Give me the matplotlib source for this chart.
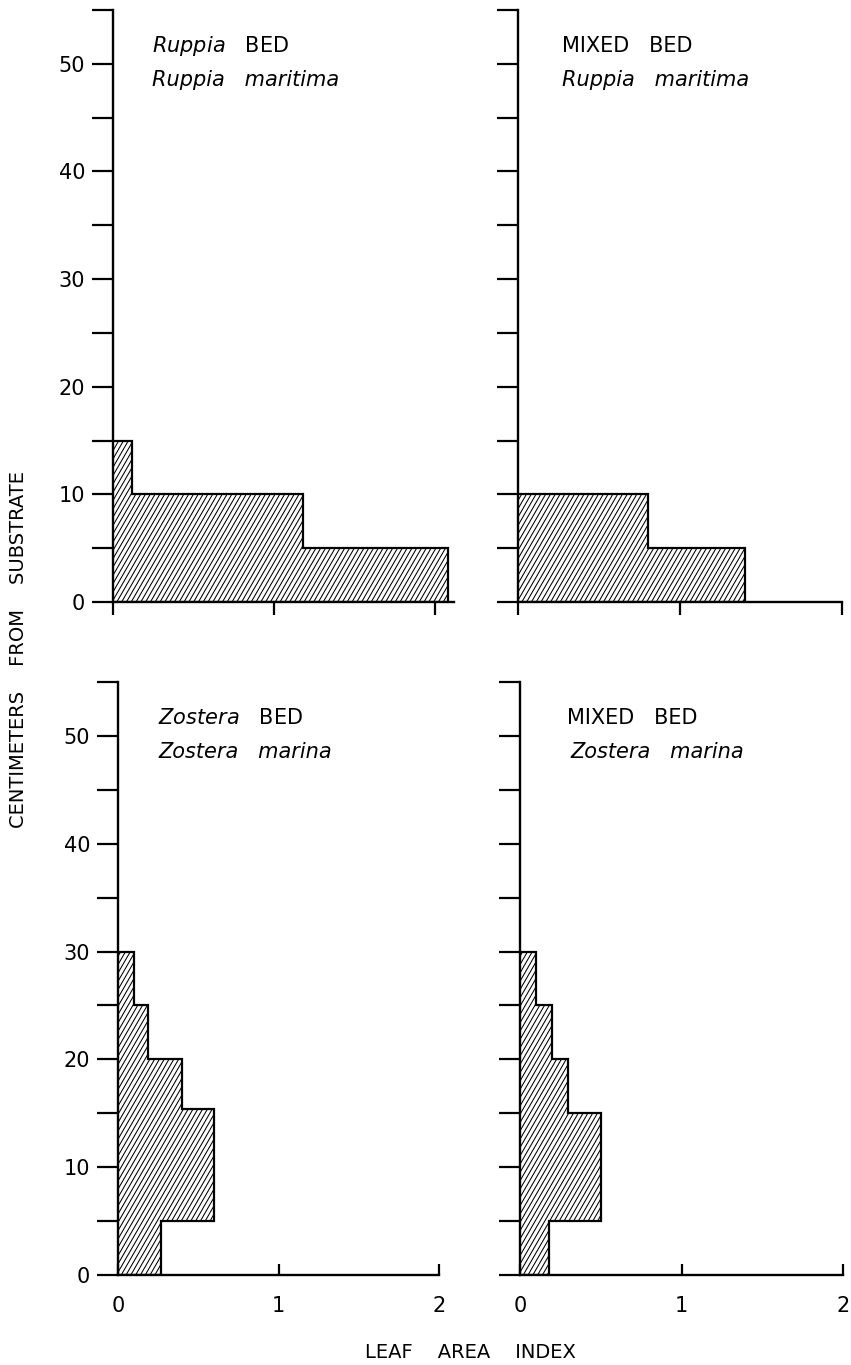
import matplotlib.pyplot as plt
from matplotlib.collections import LineCollection
import numpy as np

plt.rcParams['font.family'] = 'DejaVu Sans'
plt.rcParams['mathtext.fontset'] = 'dejavusans'

# Layer boundaries (cm above substrate) and leaf area index in each layer
ruppia_bed_edges = [0, 5, 10, 15]
ruppia_bed_lai = [2.08, 1.18, 0.12]

mixed_ruppia_edges = [0, 5, 10]
mixed_ruppia_lai = [1.40, 0.80]

zostera_bed_edges = [0, 5, 15.4, 20, 25, 30]
zostera_bed_lai = [0.27, 0.60, 0.40, 0.19, 0.10]

mixed_zostera_edges = [0, 5, 15, 20, 25, 30]
mixed_zostera_lai = [0.18, 0.50, 0.30, 0.20, 0.10]

bed_labels = [r"$\it{Ruppia}$   BED", "MIXED   BED", r"$\it{Zostera}$   BED", "MIXED   BED"]
species_labels = ["Ruppia   maritima", "Ruppia   maritima", "Zostera   marina", "Zostera   marina"]

y_ticks = np.arange(0, 56, 5)
y_ticklabels = [str(v) if v % 10 == 0 else "" for v in y_ticks]

W, H = 851, 1365
fig = plt.figure(figsize=(W / 100, H / 100), dpi=100)


def px_axes(left, top, width, height):
    return fig.add_axes([left / W, 1 - (top + height) / H, width / W, height / H])


def hatch_patch(ax, patch, w_px, h_px, spacing=4.8, angle=60):
    # steep diagonal shading, drawn in axes coords and clipped to the bar outline
    run = h_px / np.tan(np.radians(angle))
    starts = np.arange(-run, w_px, spacing)
    segs = [[(x0 / w_px, 0), ((x0 + run) / w_px, 1)] for x0 in starts]
    lc = LineCollection(segs, colors='black', linewidths=0.75, transform=ax.transAxes)
    ax.add_collection(lc)
    lc.set_clip_path(patch)


panels = [
    # (pixel box, edges, values, xmax, text x, show y labels, show x labels)
    ((113, 10, 341, 592), ruppia_bed_edges, ruppia_bed_lai, 2.12, 0.24, True, False),
    ((518, 10, 324, 592), mixed_ruppia_edges, mixed_ruppia_lai, 2.0, 0.27, False, False),
    ((118, 682, 321, 593), zostera_bed_edges, zostera_bed_lai, 2.0, 0.25, True, True),
    ((520, 682, 323, 593), mixed_zostera_edges, mixed_zostera_lai, 2.0, 0.29, False, True),
]

for i, (box, edges, vals, xmax, tx, ylab, xlab) in enumerate(panels):
    ax = px_axes(*box)
    bars = ax.stairs(vals, edges, orientation='horizontal', baseline=0, fill=True,
                     facecolor='white', edgecolor='none')
    hatch_patch(ax, bars, box[2], box[3])
    ax.stairs(vals, edges, orientation='horizontal', baseline=0, fill=True,
              facecolor='none', edgecolor='black', linewidth=1.6)

    ax.set_xlim(0, xmax)
    ax.set_ylim(0, 55)
    for side in ['top', 'right']:
        ax.spines[side].set_visible(False)
    for side in ['left', 'bottom']:
        ax.spines[side].set_linewidth(1.7)

    ax.set_yticks(y_ticks)
    ax.set_yticklabels(y_ticklabels if ylab else [])
    ax.tick_params(axis='y', direction='out', length=15, width=1.6, pad=5, labelsize=15)

    ax.set_xticks([0, 1, 2])
    if xlab:
        ax.set_xticklabels(["0", "1", "2"])
        ax.tick_params(axis='x', direction='in', length=8, width=1.6, pad=15, labelsize=15)
    else:
        ax.set_xticklabels([])
        ax.tick_params(axis='x', direction='out', length=9, width=1.6)

    ax.text(tx, 51.7, bed_labels[i], fontsize=15, ha='left', va='center')
    ax.text(tx + (0.02 if i == 3 else 0), 48.5, species_labels[i], fontsize=15,
            style='italic', ha='left', va='center')

fig.text(19 / W, 1 - 650 / H, "CENTIMETERS    FROM    SUBSTRATE", rotation=90,
         ha='center', va='center', fontsize=14)
fig.text(470 / W, 1 - 1352 / H, "LEAF    AREA    INDEX", ha='center', va='center', fontsize=14)

fig.savefig("out.png", dpi=100, facecolor='white')
